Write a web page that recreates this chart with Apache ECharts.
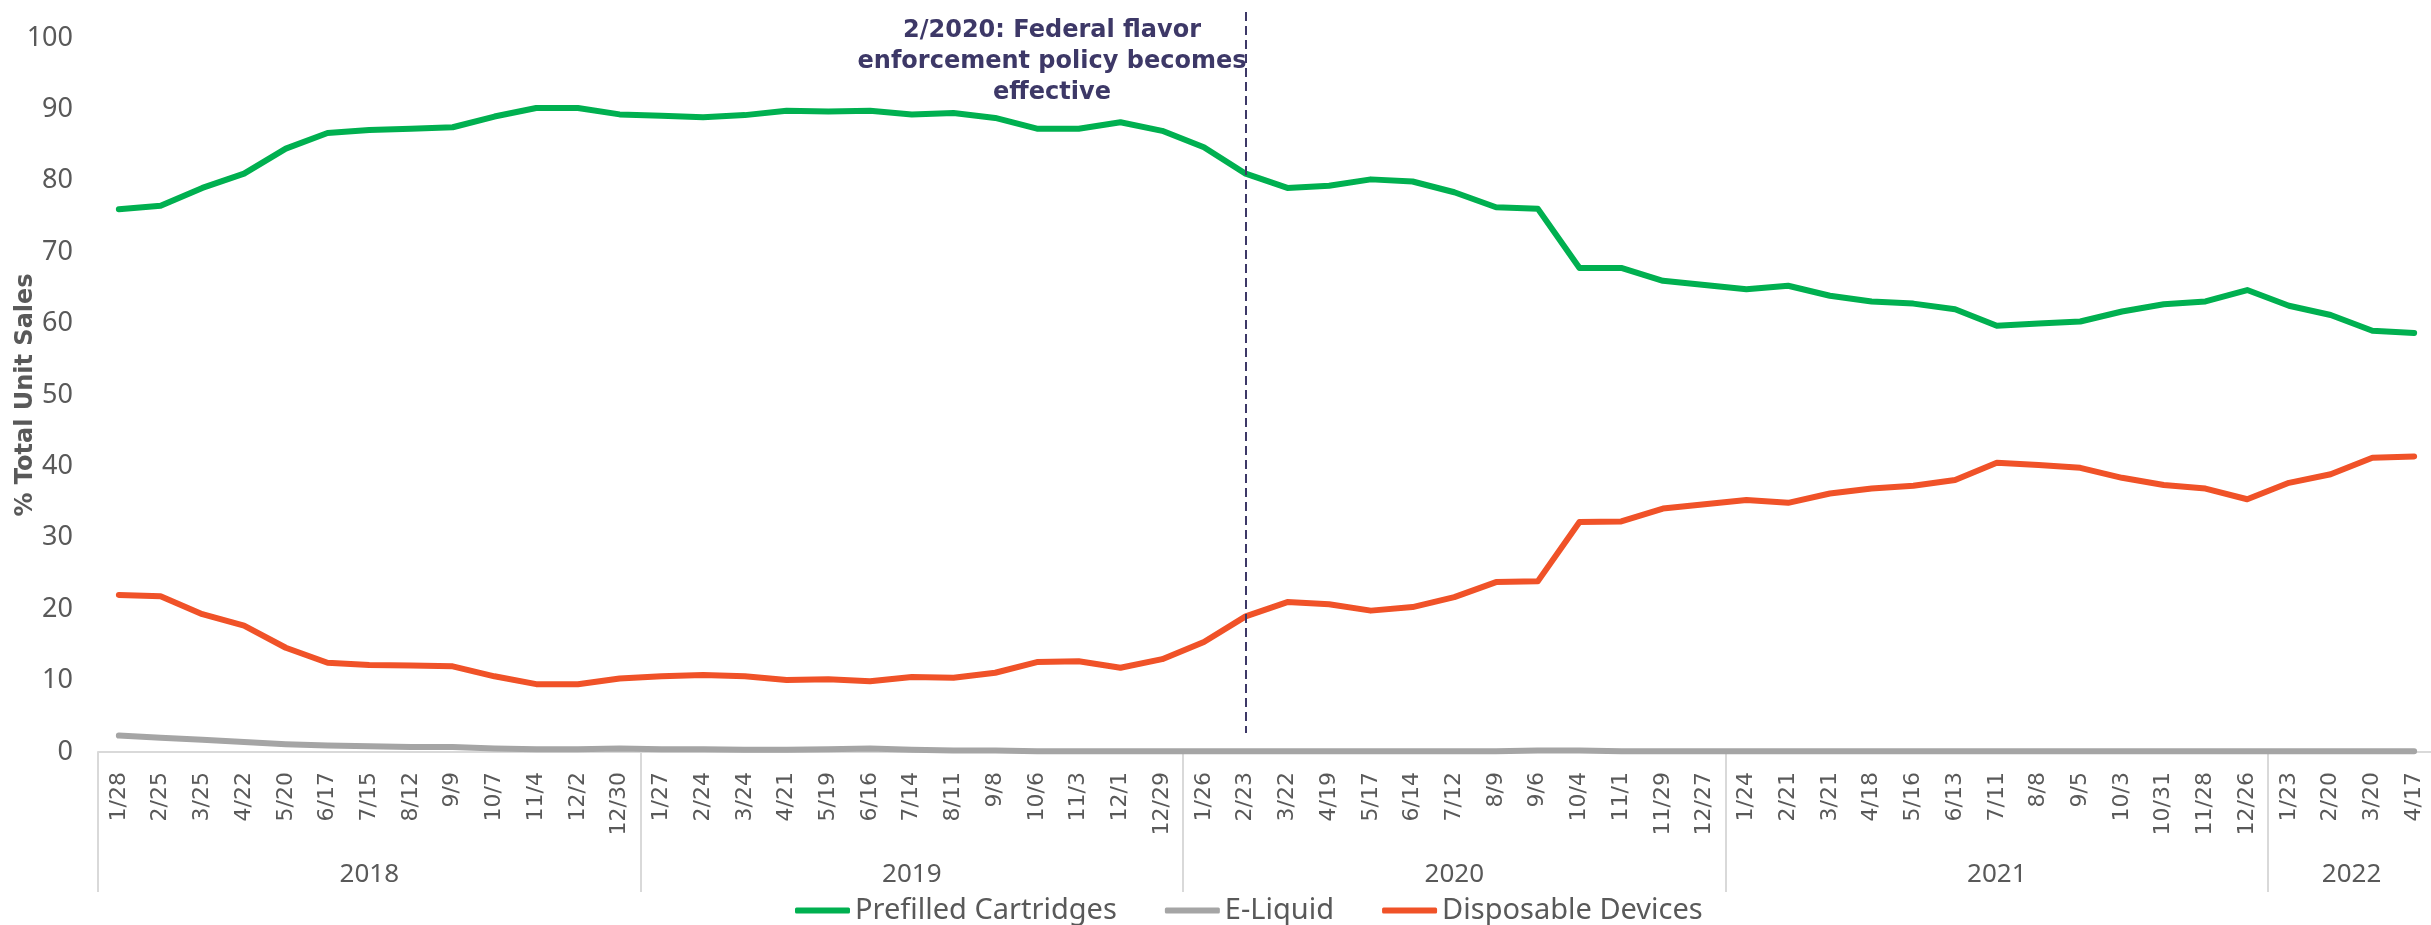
<!DOCTYPE html>
<html>
<head>
<meta charset="utf-8">
<script src="https://cdn.jsdelivr.net/npm/echarts@6/dist/echarts.min.js"></script>
<style>
  html, body { margin: 0; padding: 0; background: #fff; }
  #chart { width: 2431px; height: 925px; }
</style>
</head>
<body>
<div id="chart"></div>
<script>
// 4-week periods, grouped by year
const categories = [
    '1/28', '2/25', '3/25', '4/22', '5/20', '6/17', '7/15', '8/12', '9/9', '10/7', '11/4', '12/2', '12/30',
    '1/27', '2/24', '3/24', '4/21', '5/19', '6/16', '7/14', '8/11', '9/8', '10/6', '11/3', '12/1', '12/29',
    '1/26', '2/23', '3/22', '4/19', '5/17', '6/14', '7/12', '8/9', '9/6', '10/4', '11/1', '11/29', '12/27',
    '1/24', '2/21', '3/21', '4/18', '5/16', '6/13', '7/11', '8/8', '9/5', '10/3', '10/31', '11/28', '12/26',
    '1/23', '2/20', '3/20', '4/17'
];
const years = ['2018', '2019', '2020', '2021', '2022'];
const yearCounts = [13, 13, 13, 13, 4];

const prefilledCartridges = [
    76.0, 76.5, 79.0, 81.0, 84.5, 86.7, 87.1, 87.3, 87.5, 89.0, 90.2, 90.2, 89.3,
    89.1, 88.9, 89.2, 89.8, 89.7, 89.8, 89.3, 89.5, 88.8, 87.3, 87.3, 88.2, 87.0,
    84.7, 81.0, 79.0, 79.3, 80.2, 79.9, 78.4, 76.3, 76.1, 67.8, 67.8, 66.0, 65.4,
    64.8, 65.3, 63.9, 63.1, 62.8, 62.0, 59.7, 60.0, 60.3, 61.7, 62.7, 63.1, 64.7,
    62.5, 61.2, 59.0, 58.7
];
const eLiquid = [
    2.3, 2.0, 1.7, 1.4, 1.1, 0.9, 0.8, 0.7, 0.7, 0.5, 0.4, 0.4, 0.5,
    0.4, 0.4, 0.3, 0.3, 0.4, 0.5, 0.3, 0.2, 0.2, 0.1, 0.1, 0.1, 0.1,
    0.1, 0.1, 0.1, 0.1, 0.1, 0.1, 0.1, 0.1, 0.2, 0.2, 0.1, 0.1, 0.1,
    0.1, 0.1, 0.1, 0.1, 0.1, 0.1, 0.1, 0.1, 0.1, 0.1, 0.1, 0.1, 0.1,
    0.1, 0.1, 0.1, 0.1
];
const disposableDevices = [
    22.0, 21.8, 19.3, 17.7, 14.6, 12.5, 12.2, 12.1, 12.0, 10.6, 9.5, 9.5, 10.3,
    10.6, 10.8, 10.6, 10.1, 10.2, 9.9, 10.5, 10.4, 11.1, 12.6, 12.7, 11.8, 13.0,
    15.4, 19.0, 21.0, 20.7, 19.8, 20.3, 21.7, 23.8, 23.9, 32.2, 32.3, 34.1, 34.7,
    35.3, 34.9, 36.2, 36.9, 37.3, 38.1, 40.5, 40.2, 39.8, 38.4, 37.4, 36.9, 35.4,
    37.7, 38.9, 41.2, 41.4
];
const yTicks = [0, 10, 20, 30, 40, 50, 60, 70, 80, 90, 100];

const policyDate = '2/23';
const policyNote = '2/2020: Federal flavor\nenforcement policy becomes\neffective';

// year axis on half-category steps: boundaries and centers of each year group
const halfSteps = categories.length * 2;
const yearBoundaries = [];
const yearLabelAt = {};
let start = 0;
yearCounts.forEach((n, i) => {
    yearBoundaries.push(start * 2);
    yearLabelAt[start * 2 + n] = years[i];
    start += n;
});
const yearAxisData = [];
for (let j = 0; j <= halfSteps; j++) {
    yearAxisData.push(yearLabelAt[j] || '');
}

const labelColor = '#595959';

const chart = echarts.init(document.getElementById('chart'), null, { renderer: 'canvas' });

const option = {
    animation: false,
    backgroundColor: '#ffffff',
    grid: {
        left: 98,
        right: -4,
        top: 38,
        bottom: 173,
        outerBoundsMode: 'none'
    },
    legend: {
        left: 790,
        top: 891,
        icon: 'roundRect',
        itemWidth: 55,
        itemHeight: 6,
        itemGap: 48,
        textStyle: {
            fontFamily: 'Noto Sans',
            fontSize: 29,
            color: labelColor
        },
        data: ['Prefilled Cartridges', 'E-Liquid', 'Disposable Devices']
    },
    xAxis: [
        {
            type: 'category',
            data: categories,
            boundaryGap: true,
            axisLine: { lineStyle: { color: '#d9d9d9', width: 2 } },
            axisTick: { show: false },
            axisLabel: {
                interval: 0,
                rotate: 90,
                margin: 20,
                fontFamily: 'DejaVu Sans',
                fontSize: 22,
                color: labelColor
            }
        },
        {
            type: 'category',
            data: yearAxisData,
            boundaryGap: false,
            position: 'bottom',
            axisLine: { show: false },
            axisTick: {
                show: true,
                length: 140,
                interval: (idx) => yearBoundaries.includes(idx),
                lineStyle: { color: '#d9d9d9', width: 2 }
            },
            axisLabel: {
                interval: (idx, val) => val !== '',
                margin: 110,
                fontFamily: 'Noto Sans',
                fontSize: 26,
                color: labelColor
            }
        }
    ],
    yAxis: {
        type: 'value',
        min: yTicks[0],
        max: yTicks[yTicks.length - 1],
        interval: yTicks[1] - yTicks[0],
        splitLine: { show: false },
        axisLine: { show: false },
        axisTick: { show: false },
        axisLabel: {
            margin: 25,
            fontFamily: 'Noto Sans',
            fontSize: 27,
            color: labelColor
        },
        name: '% Total Unit Sales',
        nameLocation: 'middle',
        nameRotate: 90,
        nameGap: 60,
        nameMoveOverlap: false,
        nameTextStyle: {
            fontFamily: 'DejaVu Sans',
            fontWeight: 'bold',
            fontSize: 24,
            color: labelColor
        }
    },
    graphic: [
        {
            type: 'text',
            x: 1052,
            y: 15,
            style: {
                text: policyNote,
                font: 'bold 24px "DejaVu Sans"',
                fill: '#3d3867',
                textAlign: 'center',
                lineHeight: 31
            }
        }
    ],
    series: [
        {
            name: 'Prefilled Cartridges',
            type: 'line',
            data: prefilledCartridges,
            symbol: 'none',
            clip: false,
            lineStyle: { color: '#00b050', width: 6, join: 'round', cap: 'round' },
            itemStyle: { color: '#00b050' },
            markLine: {
                silent: true,
                symbol: 'none',
                label: { show: false },
                lineStyle: { color: '#3d3867', width: 2, type: [9, 5] },
                data: [[{ xAxis: policyDate, y: 12 }, { xAxis: policyDate, y: 733 }]]
            }
        },
        {
            name: 'E-Liquid',
            type: 'line',
            data: eLiquid,
            symbol: 'none',
            lineStyle: { color: '#a5a5a5', width: 6, join: 'round', cap: 'round' },
            itemStyle: { color: '#a5a5a5' }
        },
        {
            name: 'Disposable Devices',
            type: 'line',
            data: disposableDevices,
            symbol: 'none',
            lineStyle: { color: '#f05228', width: 6, join: 'round', cap: 'round' },
            itemStyle: { color: '#f05228' }
        }
    ]
};

chart.setOption(option);
window.addEventListener('resize', () => chart.resize());
</script>
</body>
</html>
